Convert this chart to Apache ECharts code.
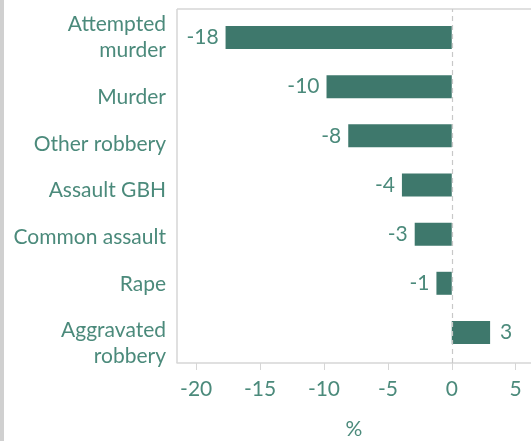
<!DOCTYPE html>
<html>
<head>
<meta charset="utf-8">
<script src="https://cdn.jsdelivr.net/npm/echarts@6/dist/echarts.min.js"></script>
<style>
  html, body { margin: 0; padding: 0; background: #fff; }
  #chart { width: 531px; height: 441px; }
</style>
</head>
<body>
<div id="chart"></div>
<script>
// crime categories, top to bottom
const categories = ['Attempted\nmurder', 'Murder', 'Other robbery', 'Assault GBH', 'Common assault', 'Rape', 'Aggravated\nrobbery']
// % change
const values = [-17.7, -9.8, -8.1, -3.9, -2.9, -1.2, 3.0]
const xTicks = [-20, -15, -10, -5, 0, 5]

const textColor = '#4b8a7b'
const barColor = '#3e786c'
const frameColor = '#d6d6d6'
const font = 'Lato'
const fs = 21
const xMin = -21.5
const xMax = 6.2

const chart = echarts.init(document.getElementById('chart'))

chart.setOption({
  animation: false,
  grid: [
    { left: 177, right: 0, top: 13, bottom: 84, outerBoundsMode: 'none' },   // bars
    { left: 177, right: 0, top: 9, bottom: 78, outerBoundsMode: 'none' },    // frame + x axis
    { left: 177, right: 0, top: 27, bottom: 87, outerBoundsMode: 'none' }    // category labels
  ],
  graphic: [
    { type: 'rect', shape: { x: 0, y: 0, width: 4, height: 441 }, style: { fill: '#d0d0d0' } },
    { type: 'line', shape: { x1: 177, y1: 9, x2: 531, y2: 9 }, style: { stroke: frameColor, lineWidth: 1.5 } },
    { type: 'line', shape: { x1: 177, y1: 9, x2: 177, y2: 363 }, style: { stroke: frameColor, lineWidth: 1.5 } }
  ],
  xAxis: [
    { gridIndex: 0, type: 'value', min: xMin, max: xMax, show: false },
    {
      gridIndex: 1,
      type: 'value',
      min: xMin,
      max: xMax,
      name: '%',
      nameLocation: 'middle',
      nameGap: 56,
      nameTextStyle: { color: textColor, fontSize: fs, fontFamily: font },
      axisLine: { show: true, lineStyle: { color: frameColor, width: 1.5 } },
      axisTick: { show: true, customValues: xTicks, length: 7, lineStyle: { color: frameColor } },
      axisLabel: { customValues: xTicks, color: textColor, fontSize: fs, fontFamily: font, margin: 16 },
      splitLine: { show: false }
    },
    { gridIndex: 2, type: 'value', min: xMin, max: xMax, show: false }
  ],
  yAxis: [
    { gridIndex: 0, type: 'category', data: categories, inverse: true, show: false },
    { gridIndex: 1, type: 'value', show: false },
    {
      gridIndex: 2,
      type: 'category',
      data: categories,
      inverse: true,
      axisLine: { show: false },
      axisTick: { show: false },
      axisLabel: {
        interval: 0,
        color: textColor,
        fontSize: fs,
        fontFamily: font,
        margin: 11,
        lineHeight: 26,
        // first wrapped label sits above its slot, last one below
        formatter: (v, i) => i === 0 ? v + '\n ' : (i === categories.length - 1 ? ' \n' + v : v)
      }
    }
  ],
  series: [
    {
      type: 'bar',
      xAxisIndex: 0,
      yAxisIndex: 0,
      data: values.map(v => ({
        value: v,
        label: { position: v < 0 ? 'left' : 'right', distance: v < 0 ? 7 : 10 }
      })),
      barWidth: 23,
      itemStyle: { color: barColor },
      label: {
        show: true,
        color: textColor,
        fontSize: fs,
        fontFamily: font,
        formatter: p => Math.round(p.value)
      }
    },
    {
      type: 'line',
      xAxisIndex: 1,
      yAxisIndex: 1,
      data: [],
      markLine: {
        silent: true,
        symbol: 'none',
        label: { show: false },
        lineStyle: { color: '#c8c8c8', type: [5, 4], width: 1.2 },
        data: [{ xAxis: 0 }]
      }
    }
  ]
})
</script>
</body>
</html>
